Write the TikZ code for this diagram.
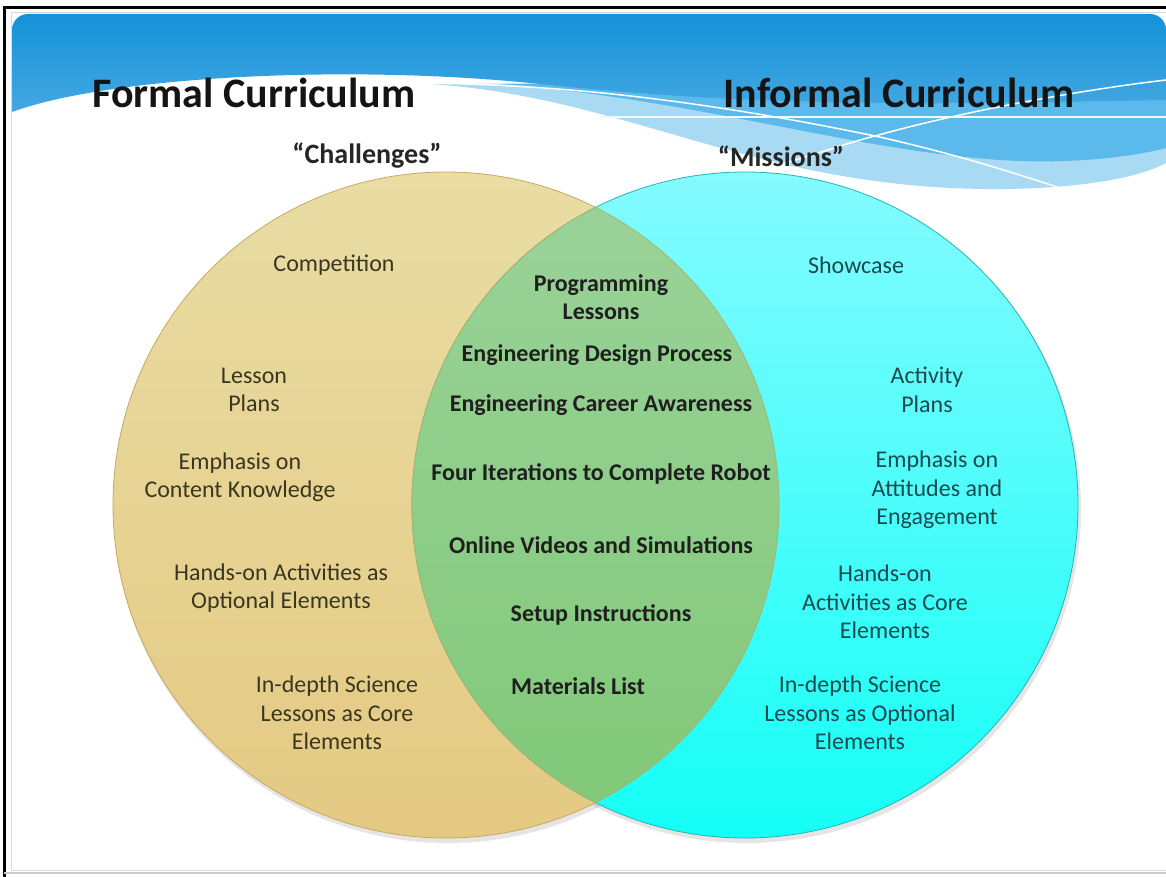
\documentclass[tikz,border=0pt]{standalone}
\usepackage{fontspec}
\setmainfont{Carlito}
\usetikzlibrary{positioning}

\definecolor{headblue}{HTML}{1592DA}
\definecolor{headmid}{HTML}{5BBAEB}
\definecolor{headlight}{HTML}{A9DAF4}
\definecolor{formaltop}{HTML}{E9DDA4}
\definecolor{formalbot}{HTML}{E4C982}
\definecolor{formaledge}{HTML}{C4A95E}
\definecolor{informaltop}{HTML}{84FBFF}
\definecolor{informalbot}{HTML}{14FFF6}
\definecolor{informaledge}{HTML}{27B3B3}
\definecolor{lenstop}{HTML}{9BD39A}
\definecolor{lensbot}{HTML}{80C877}
\definecolor{lensedge}{HTML}{A7B46E}
\definecolor{formaltext}{HTML}{3A3720}
\definecolor{informaltext}{HTML}{1C4A4E}

\tikzset{
  formal/.style={text=formaltext, align=center, font=\fontsize{24}{28.5}\selectfont},
  informal/.style={text=informaltext, align=center, font=\fontsize{24}{28.5}\selectfont},
  shared/.style={text=black!88, align=center, font=\bfseries\fontsize{24}{28.5}\selectfont},
  heading/.style={text=black!92, font=\bfseries\fontsize{42}{48}\selectfont},
  nickname/.style={text=black!85, font=\bfseries\fontsize{28}{32}\selectfont}
}

\begin{document}
\begin{tikzpicture}[x=1pt, y=-1pt]
    \useasboundingbox (0,0) rectangle (1166,877);
    \fill[white] (0,0) rectangle (1166,877);

    % Slide frame
    \draw[black!15] (11,12) rectangle (1166,870);
    \draw[black, line width=3pt] (4,877) -- (4,8) -- (1166,8);
    \draw[black!20, line width=2pt] (4,873) -- (1166,873);

    % Header band with the wave
    \fill[headlight] (430,84) .. controls (600,95) and (720,165) .. (900,184)
        .. controls (1000,195) and (1120,188) .. (1166,163) -- (1166,80) -- cycle;
    \fill[headmid] (500,84) .. controls (700,100) and (850,150) .. (1000,160)
        .. controls (1080,165) and (1140,155) .. (1166,148) -- (1166,80) -- cycle;
    \shade[top color=headblue, bottom color=headblue!80!white]
        (12,112) [rounded corners=16pt] -- (12,14) -- (1166,14) [sharp corners] -- (1166,100)
        .. controls (950,104) and (760,108) .. (540,84)
        .. controls (350,64) and (110,76) .. cycle;
    \draw[white, line width=1.5pt] (415,83) .. controls (560,84) and (700,100) .. (875,136)
        .. controls (960,155) and (1010,172) .. (1070,191);
    \draw[white, line width=1.5pt] (738,176) .. controls (800,160) and (850,142) .. (875,136)
        .. controls (960,112) and (1080,90) .. (1166,80);
    \draw[white!85!headlight, line width=1.2pt] (600,117) -- (1166,117);

    % Shadows under the circles
    \fill[black, opacity=0.10] (448,509) circle (334);
    \fill[black, opacity=0.10] (747,509) circle (334);

    % Formal circle
    \shade[top color=formaltop, bottom color=formalbot] (446,505) circle (333);
    \draw[formaledge, line width=0.8pt] (446,505) circle (333);

    % Informal circle
    \shade[top color=informaltop, bottom color=informalbot] (745,505) circle (333);
    \draw[informaledge, line width=0.8pt] (745,505) circle (333);

    % Overlap
    \begin{scope}
      \clip (446,505) circle (333);
      \shade[top color=lenstop, bottom color=lensbot] (745,505) circle (333);
      \draw[lensedge, line width=0.8pt] (745,505) circle (333);
    \end{scope}
    \begin{scope}
      \clip (745,505) circle (333);
      \draw[lensedge, line width=0.8pt] (446,505) circle (333);
    \end{scope}

    % Headings
    \node[heading] (formaltitle) at (254,93) {Formal Curriculum};
    \node[heading] (informaltitle) at (899,93) {Informal Curriculum};
    \node[nickname] (challenges) at (367,156) {``Challenges''};
    \node[nickname] (missions) at (781,156) {``Missions''};

    % Formal side
    \node[formal] (compet) at (334,265) {Competition};
    \node[formal] (lessonplans) at (254,390) {Lesson\\Plans};
    \node[formal] (emphcontent) at (240,477) {Emphasis on\\Content Knowledge};
    \node[formal] (handsopt) at (281,588) {Hands-on Activities as\\Optional Elements};
    \node[formal] (indepthcore) at (337,713) {In-depth Science\\Lessons as Core\\Elements};

    % Shared items
    \node[shared] (progles) at (601,297) {Programming\\Lessons};
    \node[shared] (edp) at (597,355) {Engineering Design Process};
    \node[shared] (careers) at (601,405) {Engineering Career Awareness};
    \node[shared] (iterations) at (601,474) {Four Iterations to Complete Robot};
    \node[shared] (videos) at (601,545) {Online Videos and Simulations};
    \node[shared] (setup) at (601,615) {Setup Instructions};
    \node[shared] (materials) at (578,686) {Materials List};

    % Informal side
    \node[informal] (showcase) at (856,265) {Showcase};
    \node[informal] (activityplans) at (927,390) {Activity\\Plans};
    \node[informal] (emphattitude) at (937,490) {Emphasis on\\Attitudes and\\Engagement};
    \node[informal] (handscore) at (885,602) {Hands-on\\Activities as Core\\Elements};
    \node[informal] (indepthopt) at (860,713) {In-depth Science\\Lessons as Optional\\Elements};
\end{tikzpicture}
\end{document}
